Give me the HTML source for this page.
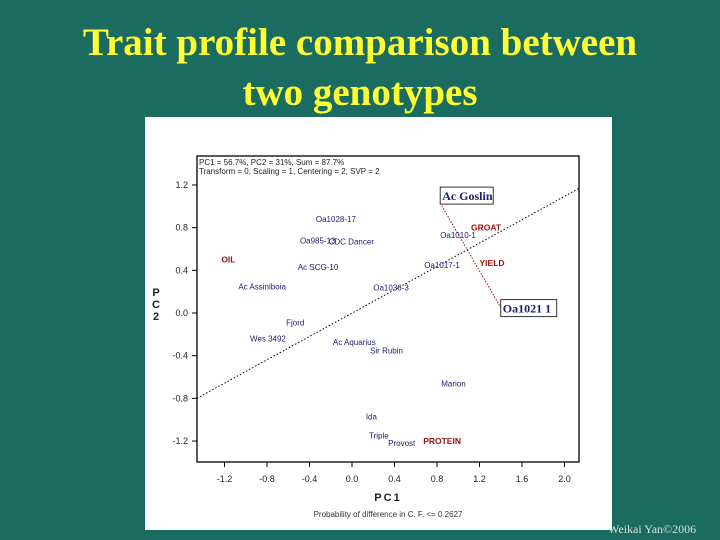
<!DOCTYPE html>
<html><head><meta charset="utf-8"><style>
body{margin:0;width:720px;height:540px;overflow:hidden;background:#1b6c60;font-family:"Liberation Sans",sans-serif;position:relative}
#title{position:absolute;left:0;top:18px;width:720px;text-align:center;color:#ffff33;font-family:"Liberation Serif",serif;font-weight:bold;font-size:39px;line-height:50px}
#credit{position:absolute;left:608px;top:522px;color:#ddd;font-family:"Liberation Serif",serif;font-size:12px}
svg{position:absolute;left:0;top:0}
</style></head><body>
<div id="title">Trait profile comparison between<br>two genotypes</div>
<div id="credit">Weikai Yan©2006</div>
<svg id="chart" width="720" height="540"></svg>
<script>
const genoNames=["Oa1028-17","Oa985-13","CDC Dancer","Ac SCG-10","Ac Assiniboia","Oa1036-3","Oa1010-1","Oa1017-1","Fjord","Wes 3492","Ac Aquarius","Sir Rubin","Marion","Ida","Triple","Provost"];
const genoX=[-0.34,-0.49,-0.22,-0.51,-1.07,0.20,0.83,0.68,-0.62,-0.96,-0.18,0.17,0.84,0.13,0.16,0.34];
const genoY=[0.88,0.68,0.67,0.43,0.25,0.24,0.73,0.45,-0.09,-0.24,-0.27,-0.35,-0.66,-0.97,-1.15,-1.22];
const traitNames=["GROAT","YIELD","OIL","PROTEIN"];
const traitX=[1.12,1.20,-1.23,0.67];
const traitY=[0.80,0.47,0.50,-1.20];
const compNames=["Ac Goslin","Oa1021 1"];
const compX=[0.83,1.40];
const compY=[1.03,0.05];
const axisLineX=[-1.46,2.14];
const axisLineY=[-0.80,1.17];
const xTicks=[-1.2,-0.8,-0.4,0.0,0.4,0.8,1.2,1.6,2.0];
const yTicks=[1.2,0.8,0.4,0.0,-0.4,-0.8,-1.2];

const NS="http://www.w3.org/2000/svg";
const svg=document.getElementById('chart');
const sx=v=>352+106.25*v, sy=v=>313-106.7*v;
function mk(tag,attrs,txt){const e=document.createElementNS(NS,tag);for(const k in attrs)e.setAttribute(k,attrs[k]);if(txt!==undefined)e.textContent=txt;svg.appendChild(e);return e;}
let e;
e=mk('rect',{x:145,y:117,width:467,height:413,fill:'#fff'});


e=mk('rect',{x:197,y:156,width:382,height:306,fill:'none',stroke:'#000','stroke-width':1.3});


e=mk('text',{x:199,y:165,'font-size':8,fill:'#222'},'PC1 = 56.7%, PC2 = 31%, Sum = 87.7%');


e=mk('text',{x:199,y:174,'font-size':8,fill:'#222'},'Transform = 0, Scaling = 1, Centering = 2, SVP = 2');


xTicks.forEach(t=>{
 e=mk('line',{x1:sx(t),x2:sx(t),y1:462,y2:467,stroke:'#000'});
 
 
 e=mk('text',{x:sx(t),y:482,'font-size':9,'text-anchor':'middle',fill:'#222'},t.toFixed(1));
 
 
});
yTicks.forEach(t=>{
 e=mk('line',{x1:192,x2:197,y1:sy(t),y2:sy(t),stroke:'#000'});
 
 
 e=mk('text',{x:188,y:sy(t)+3,'font-size':9,'text-anchor':'end',fill:'#222'},t.toFixed(1));
 
 
});
e=mk('text',{x:388,y:501,'font-size':11,'font-weight':'bold','text-anchor':'middle',fill:'#222','letter-spacing':'2'},'PC1');


['P','C','2'].forEach((c,i)=>{
 e=mk('text',{x:156,y:296+i*12,'font-size':11,'font-weight':'bold','text-anchor':'middle',fill:'#222'},c);
 
 
});
e=mk('text',{x:388,y:517,'font-size':8,'text-anchor':'middle',fill:'#333'},'Probability of difference in C. F. <= 0.2627');


e=mk('line',{x1:sx(axisLineX[0]),y1:sy(axisLineY[0]),x2:sx(axisLineX[1]),y2:sy(axisLineY[1]),stroke:'#000','stroke-dasharray':'1.5,2','stroke-width':1});


e=mk('line',{x1:sx(compX[0]),y1:sy(compY[0]),x2:sx(compX[1]),y2:sy(compY[1]),stroke:'#a01010','stroke-dasharray':'1.5,1.5','stroke-width':1});


genoNames.forEach((n,i)=>{
 e=mk('text',{x:sx(genoX[i]),y:sy(genoY[i])+3,'font-size':8,fill:'#1a1a70'},n);
 
 
});
traitNames.forEach((n,i)=>{
 e=mk('text',{x:sx(traitX[i]),y:sy(traitY[i])+3,'font-size':8.5,'font-weight':'bold',fill:'#9a1010'},n);
 
 
});
compNames.forEach((n,i)=>{
 const x=sx(compX[i]), y=sy(compY[i]);
 const w=i==0?53:56;
 const bx=x, by=i==0?y-16:y-8;
 e=mk('rect',{x:bx,y:by,width:w,height:17,fill:'#fff',stroke:'#000','stroke-width':0.8});
 
 
 e=mk('text',{x:bx+2,y:by+13,'font-size':12,'font-weight':'bold','font-family':'Liberation Serif, serif',fill:'#1a1a70'},n);
 
 
});
</script>
</body></html>
